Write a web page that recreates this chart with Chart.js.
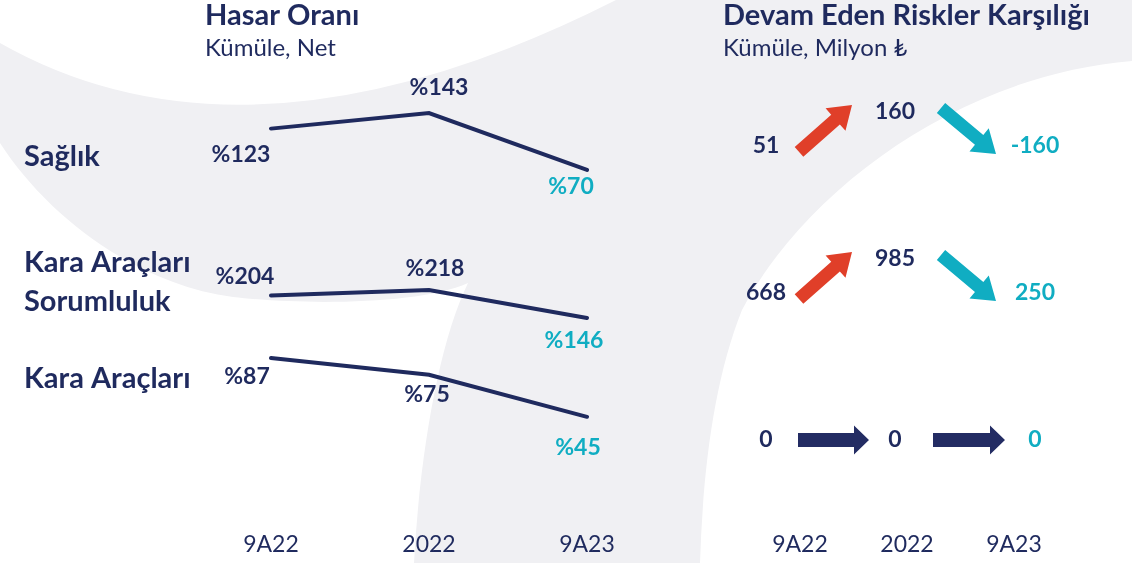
<!DOCTYPE html>
<html lang="tr">
<head>
<meta charset="UTF-8">
<title>Hasar Oranı - Devam Eden Riskler Karşılığı</title>
<script src="https://cdn.jsdelivr.net/npm/chart.js"></script>
<style>
  html, body { margin: 0; padding: 0; background: #fff; }
  #page { position: relative; width: 1132px; height: 563px; overflow: hidden; }
  #bg { position: absolute; left: 0; top: 0; }
  canvas { position: absolute; top: 0; }
  #hasar { left: 0; }
  #der { left: 700px; }
</style>
</head>
<body>
<div id="page">
  <!-- arka plan kavisi (sadece dekor) -->
  <svg id="bg" width="1132" height="563" viewBox="0 0 1132 563">
    <path fill="#f0f0f3" d="M0,43 Q250,185 616,0 L1132,0 L1132,61 C960,75 805,190 742,310 C714,380 703,470 700,563 L414,563 C420,450 440,340 468,283 C420,305 300,305 233,297 C140,285 50,220 0,143 Z"/>
  </svg>
  <canvas id="hasar" width="700" height="563"></canvas>
  <canvas id="der" width="432" height="563"></canvas>
</div>

<script>
  // ---------------- veriler ----------------
  const donemler = ['9A22', '2022', '9A23'];
  const branslar = [['Sağlık'], ['Kara Araçları', 'Sorumluluk'], ['Kara Araçları']];

  // Hasar oranı (%), kümüle net
  const hasarSaglik = [123, 143, 70];
  const hasarSorumluluk = [204, 218, 146];
  const hasarKara = [87, 75, 45];

  // Devam eden riskler karşılığı (milyon TL), kümüle
  const derSaglik = [51, 160, -160];
  const derSorumluluk = [668, 985, 250];
  const derKara = [0, 0, 0];

  // ---------------- stil ----------------
  const FONT = "Lato, 'DejaVu Sans', sans-serif";
  const LACI = '#1f2a5e';
  const TURKUAZ = '#10adc2';
  const KIRMIZI = '#e03f29';
  const OK_LACI = '#232c63';

  // her bir serinin kendi (gizli) y ekseni aralığı
  const eksenAraliklari = [[-378.8, 287.9], [-373.3, 963.5], [-28.7, 342.7]];
  // değer etiketlerinin noktaya göre kaydırması
  const etiketKaydir = [
    [[-30, 26], [10, -25], [-16, 17]],
    [[-26, -19], [6, -21], [-13, 23]],
    [[-24, 19], [-2, 20], [-9, 31]]
  ];
  const isimKaydir = [28, -13, 21];

  function yazi(ctx, text, x, y, size, bold, color, align) {
    ctx.font = (bold ? '700 ' : '400 ') + size + 'px ' + FONT;
    ctx.fillStyle = color;
    ctx.textAlign = align || 'center';
    ctx.textBaseline = 'middle';
    ctx.fillText(text, x, y);
  }

  function xEkseni() {
    return {
      type: 'category',
      offset: false,
      grid: { display: false, drawTicks: false },
      border: { display: false },
      ticks: { color: LACI, font: { family: FONT, size: 23 }, padding: 11 },
      afterFit: s => { s.height = 43; }
    };
  }

  // ---------------- Hasar Oranı ----------------
  const hasarEtiketleri = {
    id: 'hasarEtiketleri',
    afterDatasetsDraw(chart) {
      const ctx = chart.ctx;
      ctx.save();
      yazi(ctx, 'Hasar Oranı', 205, 16, 29, true, LACI, 'left');
      yazi(ctx, 'Kümüle, Net', 205, 48, 24, false, LACI, 'left');
      chart.data.datasets.forEach((ds, s) => {
        const meta = chart.getDatasetMeta(s);
        const ilk = meta.data[0];
        const isim = branslar[s];
        isim.forEach((satir, k) => {
          const y = ilk.y + isimKaydir[s] + (k - (isim.length - 1) / 2) * 39;
          yazi(ctx, satir, 24, y, 29, true, LACI, 'left');
        });
        meta.data.forEach((p, i) => {
          const [dx, dy] = etiketKaydir[s][i];
          const renk = i === ds.data.length - 1 ? TURKUAZ : LACI;
          yazi(ctx, '%' + ds.data[i], p.x + dx, p.y + dy, 23, true, renk);
        });
      });
      ctx.restore();
    }
  };

  const hasarSerileri = [hasarSaglik, hasarSorumluluk, hasarKara];
  const hasarScales = { x: xEkseni() };
  hasarSerileri.forEach((_, s) => {
    hasarScales['y' + s] = {
      type: 'linear', axis: 'y', display: false,
      min: eksenAraliklari[s][0], max: eksenAraliklari[s][1]
    };
  });

  new Chart(document.getElementById('hasar'), {
    type: 'line',
    data: {
      labels: donemler,
      datasets: hasarSerileri.map((d, s) => ({
        label: branslar[s].join(' '),
        data: d,
        yAxisID: 'y' + s,
        borderColor: LACI,
        borderWidth: 4,
        borderCapStyle: 'round',
        pointRadius: 0,
        tension: 0
      }))
    },
    options: {
      responsive: false,
      animation: false,
      layout: { padding: { left: 271, right: 113, top: 0, bottom: 0 } },
      scales: hasarScales,
      plugins: { legend: { display: false }, tooltip: { enabled: false } }
    },
    plugins: [hasarEtiketleri]
  });

  // ---------------- Devam Eden Riskler Karşılığı ----------------
  function blokOk(ctx, x1, y1, x2, y2, govde, basG, basU, renk) {
    const L = Math.hypot(x2 - x1, y2 - y1);
    const ux = (x2 - x1) / L, uy = (y2 - y1) / L;
    const nx = -uy, ny = ux;
    const bx = x2 - ux * basU, by = y2 - uy * basU;
    ctx.beginPath();
    ctx.moveTo(x1 + nx * govde / 2, y1 + ny * govde / 2);
    ctx.lineTo(bx + nx * govde / 2, by + ny * govde / 2);
    ctx.lineTo(bx + nx * basG / 2, by + ny * basG / 2);
    ctx.lineTo(x2, y2);
    ctx.lineTo(bx - nx * basG / 2, by - ny * basG / 2);
    ctx.lineTo(bx - nx * govde / 2, by - ny * govde / 2);
    ctx.lineTo(x1 - nx * govde / 2, y1 - ny * govde / 2);
    ctx.closePath();
    ctx.fillStyle = renk;
    ctx.fill();
  }

  const degerKaydirX = [-34, -12, 21];

  const derOklari = {
    id: 'derOklari',
    afterDatasetsDraw(chart) {
      const ctx = chart.ctx;
      const xs = chart.scales.x, rs = chart.scales.satir;
      ctx.save();
      yazi(ctx, 'Devam Eden Riskler Karşılığı', 23, 16, 29, true, LACI, 'left');
      yazi(ctx, 'Kümüle, Milyon ₺', 23, 48, 24, false, LACI, 'left');
      chart.data.datasets.forEach((ds, r) => {
        const v = ds.data;
        const taban = rs.getPixelForValue(r);
        for (let i = 0; i < v.length - 1; i++) {
          const a = xs.getPixelForValue(i), b = xs.getPixelForValue(i + 1);
          const yon = Math.sign(v[i + 1] - v[i]);
          if (yon !== 0) {
            const ax = i === 0 ? a - 1 : a + 34, bx = i === 0 ? b - 55 : b - 18;
            if (yon > 0) blokOk(ctx, ax, taban + 6, bx, taban - 41, 13, 30, 22, KIRMIZI);
            else blokOk(ctx, ax, taban - 38, bx, taban + 8, 13, 30, 22, TURKUAZ);
          } else {
            const ax = i === 0 ? a - 2 : a + 26, bx = i === 0 ? b - 38 : b - 9;
            blokOk(ctx, ax, taban, bx, taban, 14, 29, 15, OK_LACI);
          }
        }
        v.forEach((d, i) => {
          const yukari = i > 0 && d > v[i - 1];
          const renk = i === v.length - 1 ? TURKUAZ : LACI;
          yazi(ctx, String(d), xs.getPixelForValue(i) + degerKaydirX[i], taban + (yukari ? -34 : 0), 23, true, renk);
        });
      });
      ctx.restore();
    }
  };

  new Chart(document.getElementById('der'), {
    type: 'line',
    data: {
      labels: donemler,
      datasets: [derSaglik, derSorumluluk, derKara].map((d, r) => ({
        label: branslar[r].join(' '),
        data: d,
        yAxisID: 'deger',
        showLine: false,
        pointRadius: 0
      }))
    },
    options: {
      responsive: false,
      animation: false,
      layout: { padding: { left: 100, right: 118, top: 0, bottom: 0 } },
      scales: {
        x: xEkseni(),
        deger: { type: 'linear', axis: 'y', display: false },
        satir: { type: 'linear', axis: 'y', display: false, min: -0.993, max: 2.544, reverse: true }
      },
      plugins: { legend: { display: false }, tooltip: { enabled: false } }
    },
    plugins: [derOklari]
  });
</script>
</body>
</html>
